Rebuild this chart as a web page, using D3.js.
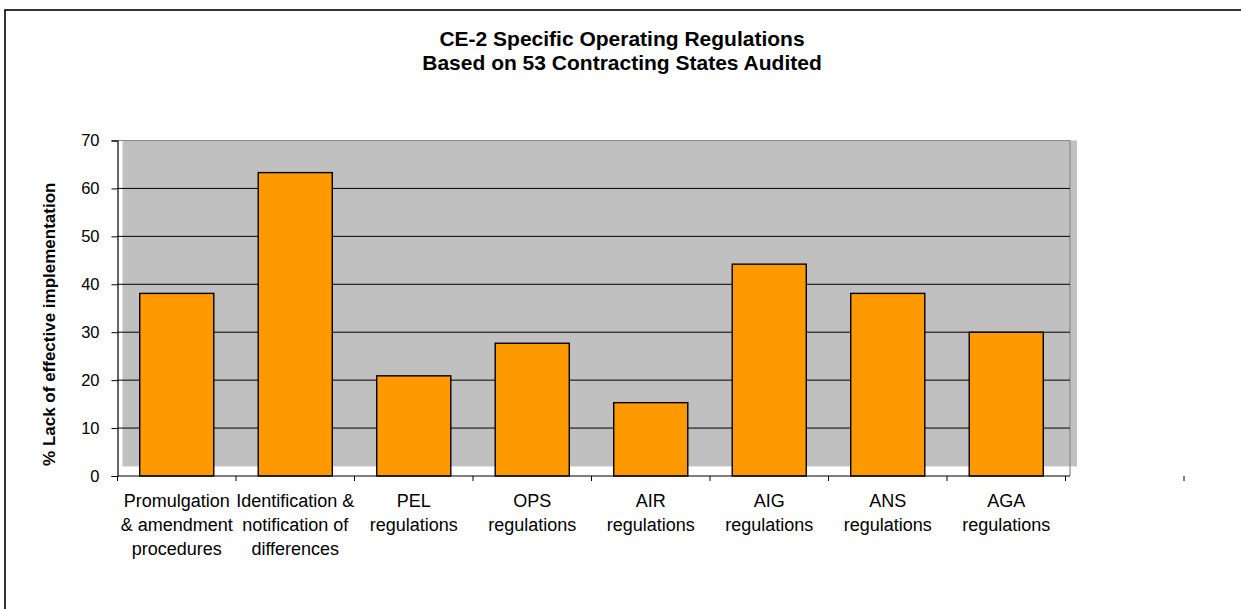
<!DOCTYPE html>
<html>
<head>
<meta charset="utf-8">
<script src="https://cdn.jsdelivr.net/npm/d3@7"></script>
<style>
  html, body { margin: 0; padding: 0; background: #fff; }
  svg { display: block; }
  text { font-family: "Liberation Sans", Arial, sans-serif; fill: #000; }
</style>
</head>
<body>
<svg id="chart" width="1241" height="609"></svg>
<script>
// ---- data ----
const titleLines = ["CE-2 Specific Operating Regulations", "Based on 53 Contracting States Audited"];
const yAxisTitle = "% Lack of effective implementation";
const categories = [
  "Promulgation & amendment procedures",
  "Identification & notification of differences",
  "PEL regulations",
  "OPS regulations",
  "AIR regulations",
  "AIG regulations",
  "ANS regulations",
  "AGA regulations"
];
const categoryLines = [
  ["Promulgation", "& amendment", "procedures"],
  ["Identification &", "notification of", "differences"],
  ["PEL", "regulations"],
  ["OPS", "regulations"],
  ["AIR", "regulations"],
  ["AIG", "regulations"],
  ["ANS", "regulations"],
  ["AGA", "regulations"]
];
const values = [38.1, 63.3, 20.9, 27.7, 15.3, 44.2, 38.1, 30.0];
const yTicks = [0, 10, 20, 30, 40, 50, 60, 70];

// ---- layout ----
const svg = d3.select("#chart");
const plotLeft = 117.5, plotRight = 1070, plotTop = 140.5, plotBottom = 476;
const step = 118.5;

const x = d3.scaleBand()
  .domain(categories)
  .range([plotLeft, plotLeft + step * categories.length])
  .paddingInner(0.375)
  .paddingOuter(0.1875);

const y = d3.scaleLinear().domain([0, 70]).range([plotBottom, plotTop]);

// outer frame
svg.append("rect")
  .attr("x", 5).attr("y", 10).attr("width", 1400).attr("height", 800)
  .attr("fill", "none").attr("stroke", "#000").attr("stroke-width", 1.6);

// title
svg.append("g").selectAll("text").data(titleLines).join("text")
  .attr("x", 622)
  .attr("y", (d, i) => 46 + i * 24)
  .attr("text-anchor", "middle")
  .attr("font-weight", "bold")
  .attr("font-size", 21)
  .text(d => d);

// back wall (gray, offset like the original 3D-ish wall)
svg.append("rect")
  .attr("x", plotLeft + 5).attr("y", plotTop)
  .attr("width", plotRight + 7 - (plotLeft + 5))
  .attr("height", y(2) - plotTop)
  .attr("fill", "#c0c0c0");

// plot area border (top and right)
svg.append("path")
  .attr("d", `M${plotLeft},${plotTop}H${plotRight}V${plotBottom}`)
  .attr("fill", "none").attr("stroke", "#8a8a8a").attr("stroke-width", 1.2);

// gridlines
svg.append("g").selectAll("line").data(yTicks.filter(t => t > 0 && t < 70)).join("line")
  .attr("x1", plotLeft).attr("x2", plotRight)
  .attr("y1", d => y(d)).attr("y2", d => y(d))
  .attr("stroke", "#000").attr("stroke-width", 1);

// y axis
const yAxis = d3.axisLeft(y).tickValues(yTicks).tickSize(6).tickPadding(12);
const gy = svg.append("g").attr("transform", `translate(${plotLeft},0)`).call(yAxis);
gy.select(".domain").attr("stroke", "#000").attr("stroke-width", 1.2);
gy.selectAll(".tick line").attr("stroke", "#000");
gy.selectAll(".tick text").attr("font-size", 16.5).attr("font-family", "Liberation Sans, Arial, sans-serif").attr("fill", "#000");

// bars
svg.append("g").selectAll("rect").data(values).join("rect")
  .attr("x", (d, i) => x(categories[i]))
  .attr("y", d => y(d))
  .attr("width", x.bandwidth())
  .attr("height", d => y(0) - y(d))
  .attr("fill", "#ff9900")
  .attr("stroke", "#000")
  .attr("stroke-width", 1.4);

// x axis line
svg.append("line")
  .attr("x1", plotLeft).attr("x2", plotRight)
  .attr("y1", plotBottom).attr("y2", plotBottom)
  .attr("stroke", "#000").attr("stroke-width", 1.2);

// x ticks at category boundaries (including the stray extra one of the original)
const boundaries = d3.range(categories.length + 2).map(k => plotLeft + k * x.step());
svg.append("g").selectAll("line").data(boundaries).join("line")
  .attr("x1", d => d).attr("x2", d => d)
  .attr("y1", plotBottom).attr("y2", plotBottom + 5)
  .attr("stroke", "#000").attr("stroke-width", 1);

// x labels
const gx = svg.append("g");
categories.forEach((c, i) => {
  const cx = x(c) + x.bandwidth() / 2;
  const t = gx.append("text")
    .attr("text-anchor", "middle")
    .attr("font-size", 18);
  categoryLines[i].forEach((line, j) => {
    t.append("tspan").attr("x", cx).attr("y", 507 + j * 24).text(line);
  });
});

// y axis title
svg.append("text")
  .attr("transform", `translate(55,${(plotTop + plotBottom) / 2 + 16}) rotate(-90)`)
  .attr("text-anchor", "middle")
  .attr("font-weight", "bold")
  .attr("font-size", 17)
  .text(yAxisTitle);
</script>
</body>
</html>
